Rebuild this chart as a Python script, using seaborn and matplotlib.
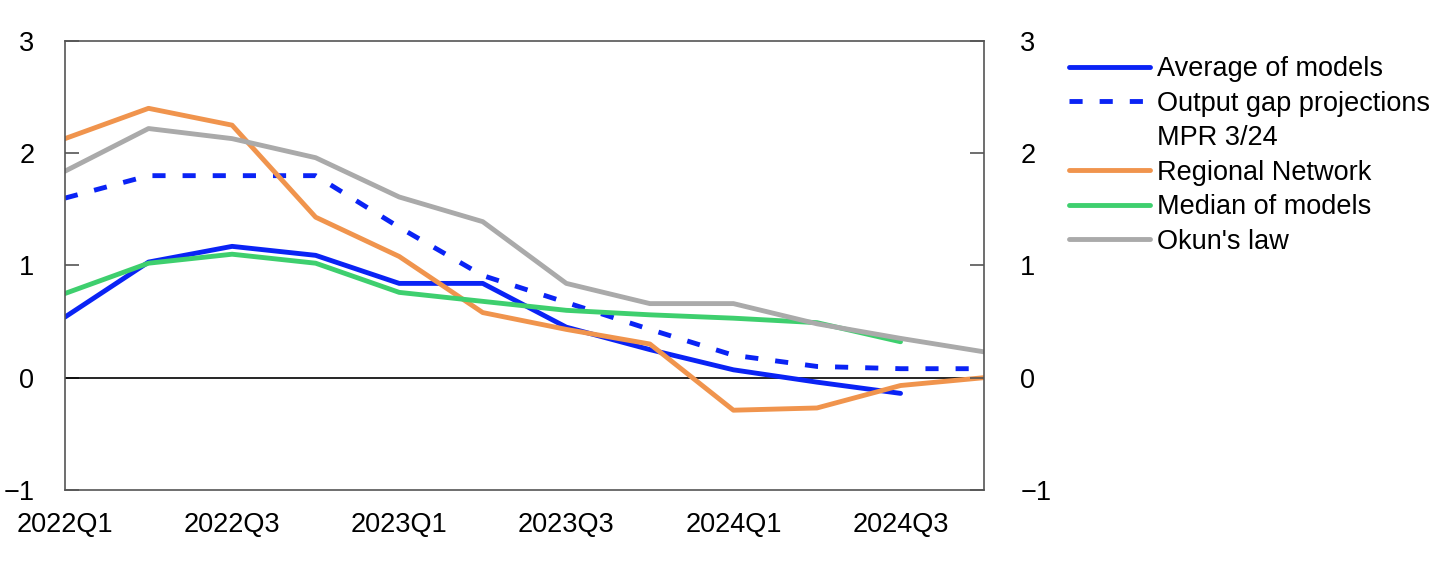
import matplotlib
matplotlib.use("Agg")
import matplotlib.pyplot as plt
from matplotlib.lines import Line2D
import numpy as np
import pandas as pd
import seaborn as sns

quarters = ["2022Q1", "2022Q2", "2022Q3", "2022Q4", "2023Q1", "2023Q2",
            "2023Q3", "2023Q4", "2024Q1", "2024Q2", "2024Q3", "2024Q4"]

average_models = [0.54, 1.03, 1.17, 1.09, 0.84, 0.84, 0.45, 0.25, 0.07, -0.04, -0.14, np.nan]
output_gap_mpr = [1.60, 1.80, 1.80, 1.80, 1.34, 0.91, 0.67, 0.43, 0.20, 0.10, 0.08, 0.08]
regional_network = [2.13, 2.40, 2.25, 1.43, 1.08, 0.58, 0.43, 0.30, -0.29, -0.27, -0.07, 0.00]
median_models = [0.75, 1.02, 1.10, 1.02, 0.76, 0.68, 0.60, 0.56, 0.53, 0.49, 0.32, np.nan]
okuns_law = [1.84, 2.22, 2.13, 1.96, 1.61, 1.39, 0.84, 0.66, 0.66, 0.48, 0.35, 0.23]

series = [
    ("Average of models", average_models, "#0a23f5", "-"),
    ("Output gap projections", output_gap_mpr, "#0a23f5", "--"),
    ("Regional Network", regional_network, "#f0944d", "-"),
    ("Median of models", median_models, "#3ecf6e", "-"),
    ("Okun's law", okuns_law, "#aaaaaa", "-"),
]


def main():
    sns.set_style("white")
    plt.rcParams["font.family"] = ["Liberation Sans", "DejaVu Sans"]

    fig = plt.figure(figsize=(14.44, 5.67), dpi=100)
    ax = fig.add_axes([0.045, 0.136, 0.6365, 0.7917])

    pos = np.arange(len(quarters))
    for label, values, color, ls in series:
        df = pd.DataFrame({"x": pos, "y": values}).dropna()
        sns.lineplot(data=df, x="x", y="y", ax=ax, color=color,
                     linewidth=3.5, label=label)
        if ls == "--":
            ax.lines[-1].set_dashes((4.5, 1.4))

    ax.axhline(0, color="black", linewidth=1.2, zorder=1)
    ax.set_xlim(0, len(quarters) - 1)
    ax.set_ylim(-1, 3)
    ax.set_xticks(pos[::2])
    ax.set_xticklabels(quarters[::2])
    ax.set_yticks([-1, 0, 1, 2, 3])
    ax.set_yticklabels(["\u22121", "0", "1", "2", "3"])
    ax.set_xlabel("")
    ax.set_ylabel("")
    ax.tick_params(axis="both", direction="in", length=10, width=1.2,
                   colors="#555555", labelcolor="black", labelsize=19.5)
    ax.tick_params(axis="x", pad=16)
    ax.tick_params(axis="y", pad=22)
    for s in ax.spines.values():
        s.set_color("#555555")
        s.set_linewidth(1.2)

    ax2 = ax.twinx()
    ax2.set_ylim(-1, 3)
    ax2.set_yticks([-1, 0, 1, 2, 3])
    ax2.set_yticklabels(["\u22121", "0", "1", "2", "3"])
    ax2.tick_params(axis="y", direction="in", length=10, width=1.2,
                    colors="#555555", labelcolor="black", labelsize=19.5, pad=26)
    for s in ax2.spines.values():
        s.set_visible(False)

    handles, labels = ax.get_legend_handles_labels()
    handles[1].set_dashes((2.7, 3.5))
    # second line of the dashed entry, without a handle
    blank = Line2D([], [], color="none")
    handles.insert(2, blank)
    labels.insert(2, "MPR 3/24")
    ax.legend(handles, labels, loc="upper left", bbox_to_anchor=(1.0805, 0.99),
              frameon=False, fontsize=19.5, handlelength=3.0, handletextpad=0.26,
              labelspacing=0.315, borderaxespad=0, labelcolor="black")

    fig.savefig("out.png", dpi=100)


if __name__ == "__main__":
    main()
